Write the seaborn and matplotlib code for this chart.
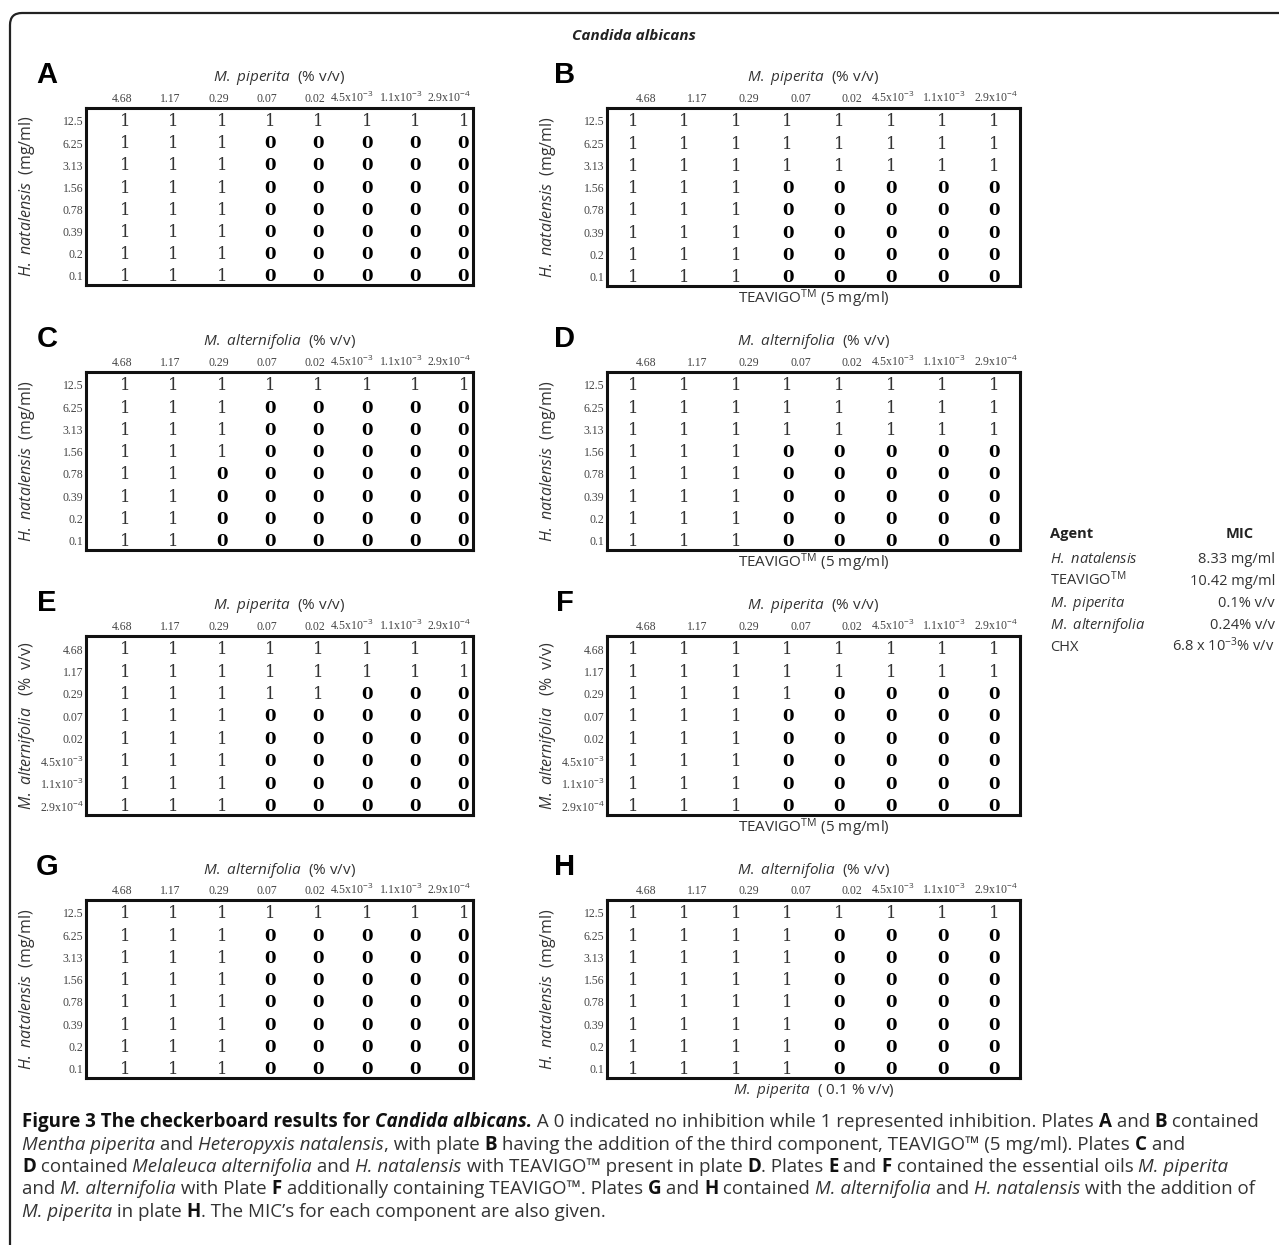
import numpy as np
import seaborn as sns
import matplotlib.pyplot as plt
from matplotlib.colors import ListedColormap
from matplotlib.patches import FancyBboxPatch

sns.set_style('white')
SANS = ['Open Sans', 'DejaVu Sans']
plt.rcParams['font.family'] = SANS
plt.rcParams['mathtext.fontset'] = 'custom'
plt.rcParams['mathtext.rm'] = 'Open Sans'
plt.rcParams['mathtext.it'] = 'Open Sans:italic'
plt.rcParams['mathtext.bf'] = 'Open Sans:bold'

# concentrations used on the plate axes
oil_conc = ['4.68', '1.17', '0.29', '0.07', '0.02',
            r'4.5x10$^{-3}$', r'1.1x10$^{-3}$', r'2.9x10$^{-4}$']
hn_conc = ['12.5', '6.25', '3.13', '1.56', '0.78', '0.39', '0.2', '0.1']

# checkerboard results (1 = inhibition, 0 = no inhibition)
plate_a = [[1, 1, 1, 1, 1, 1, 1, 1],
           [1, 1, 1, 0, 0, 0, 0, 0],
           [1, 1, 1, 0, 0, 0, 0, 0],
           [1, 1, 1, 0, 0, 0, 0, 0],
           [1, 1, 1, 0, 0, 0, 0, 0],
           [1, 1, 1, 0, 0, 0, 0, 0],
           [1, 1, 1, 0, 0, 0, 0, 0],
           [1, 1, 1, 0, 0, 0, 0, 0]]
plate_b = [[1, 1, 1, 1, 1, 1, 1, 1],
           [1, 1, 1, 1, 1, 1, 1, 1],
           [1, 1, 1, 1, 1, 1, 1, 1],
           [1, 1, 1, 0, 0, 0, 0, 0],
           [1, 1, 1, 0, 0, 0, 0, 0],
           [1, 1, 1, 0, 0, 0, 0, 0],
           [1, 1, 1, 0, 0, 0, 0, 0],
           [1, 1, 1, 0, 0, 0, 0, 0]]
plate_c = [[1, 1, 1, 1, 1, 1, 1, 1],
           [1, 1, 1, 0, 0, 0, 0, 0],
           [1, 1, 1, 0, 0, 0, 0, 0],
           [1, 1, 1, 0, 0, 0, 0, 0],
           [1, 1, 0, 0, 0, 0, 0, 0],
           [1, 1, 0, 0, 0, 0, 0, 0],
           [1, 1, 0, 0, 0, 0, 0, 0],
           [1, 1, 0, 0, 0, 0, 0, 0]]
plate_d = [[1, 1, 1, 1, 1, 1, 1, 1],
           [1, 1, 1, 1, 1, 1, 1, 1],
           [1, 1, 1, 1, 1, 1, 1, 1],
           [1, 1, 1, 0, 0, 0, 0, 0],
           [1, 1, 1, 0, 0, 0, 0, 0],
           [1, 1, 1, 0, 0, 0, 0, 0],
           [1, 1, 1, 0, 0, 0, 0, 0],
           [1, 1, 1, 0, 0, 0, 0, 0]]
plate_e = [[1, 1, 1, 1, 1, 1, 1, 1],
           [1, 1, 1, 1, 1, 1, 1, 1],
           [1, 1, 1, 1, 1, 0, 0, 0],
           [1, 1, 1, 0, 0, 0, 0, 0],
           [1, 1, 1, 0, 0, 0, 0, 0],
           [1, 1, 1, 0, 0, 0, 0, 0],
           [1, 1, 1, 0, 0, 0, 0, 0],
           [1, 1, 1, 0, 0, 0, 0, 0]]
plate_f = [[1, 1, 1, 1, 1, 1, 1, 1],
           [1, 1, 1, 1, 1, 1, 1, 1],
           [1, 1, 1, 1, 0, 0, 0, 0],
           [1, 1, 1, 0, 0, 0, 0, 0],
           [1, 1, 1, 0, 0, 0, 0, 0],
           [1, 1, 1, 0, 0, 0, 0, 0],
           [1, 1, 1, 0, 0, 0, 0, 0],
           [1, 1, 1, 0, 0, 0, 0, 0]]
plate_g = [[1, 1, 1, 1, 1, 1, 1, 1],
           [1, 1, 1, 0, 0, 0, 0, 0],
           [1, 1, 1, 0, 0, 0, 0, 0],
           [1, 1, 1, 0, 0, 0, 0, 0],
           [1, 1, 1, 0, 0, 0, 0, 0],
           [1, 1, 1, 0, 0, 0, 0, 0],
           [1, 1, 1, 0, 0, 0, 0, 0],
           [1, 1, 1, 0, 0, 0, 0, 0]]
plate_h = [[1, 1, 1, 1, 1, 1, 1, 1],
           [1, 1, 1, 1, 0, 0, 0, 0],
           [1, 1, 1, 1, 0, 0, 0, 0],
           [1, 1, 1, 1, 0, 0, 0, 0],
           [1, 1, 1, 1, 0, 0, 0, 0],
           [1, 1, 1, 1, 0, 0, 0, 0],
           [1, 1, 1, 1, 0, 0, 0, 0],
           [1, 1, 1, 1, 0, 0, 0, 0]]

# MIC table
mic_agents = [r'$\mathit{H.\ natalensis}$', r'TEAVIGO$^{\mathrm{TM}}$',
              r'$\mathit{M.\ piperita}$', r'$\mathit{M.\ alternifolia}$', 'CHX']
mic_values = ['8.33 mg/ml', '10.42 mg/ml', '0.1% v/v', '0.24% v/v',
              r'6.8 x 10$^{-3}$% v/v']

pip_title = r'$\mathit{M.\ piperita}$  (% v/v)'
alt_title = r'$\mathit{M.\ alternifolia}$  (% v/v)'
hn_label = r'$\mathit{H.\ natalensis}$  (mg/ml)'
ma_label = r'$\mathit{M.\ alternifolia}$   (%  v/v)'
tea_label = r'TEAVIGO$^{\mathrm{TM}}$ (5 mg/ml)'
pip_fixed = r'$\mathit{M.\ piperita}$  ( 0.1 % v/v)'

W, H = 1279, 1245
fig = plt.figure(figsize=(W / 100, H / 100), dpi=100)


def px(x, y):
    return x / W, 1 - y / H


panels = [
    ('A', plate_a, pip_title, hn_label, hn_conc, None, 'right', (86, 108, 473, 285)),
    ('B', plate_b, pip_title, hn_label, hn_conc, tea_label, 'center', (607, 108, 1020, 286)),
    ('C', plate_c, alt_title, hn_label, hn_conc, None, 'right', (86, 372, 473, 550)),
    ('D', plate_d, alt_title, hn_label, hn_conc, tea_label, 'center', (607, 372, 1020, 550)),
    ('E', plate_e, pip_title, ma_label, oil_conc, None, 'right', (86, 636, 473, 815)),
    ('F', plate_f, pip_title, ma_label, oil_conc, tea_label, 'center', (607, 636, 1020, 815)),
    ('G', plate_g, alt_title, hn_label, hn_conc, None, 'right', (86, 900, 473, 1078)),
    ('H', plate_h, alt_title, hn_label, hn_conc, pip_fixed, 'center', (607, 900, 1020, 1078)),
]

white = ListedColormap(['white'])
for letter, plate, title, ylab, yticks, bottom, align, (x0, y0, x1, y1) in panels:
    ax = fig.add_axes([x0 / W, 1 - y1 / H, (x1 - x0) / W, (y1 - y0) / H])
    sns.heatmap(np.array(plate), ax=ax, cmap=white, cbar=False, annot=True, fmt='d',
                annot_kws={'fontsize': 12, 'family': 'DejaVu Serif', 'color': '#333333'})
    for t in ax.texts:
        x, y = t.get_position()
        if t.get_text() == '0':
            t.set_fontweight('bold')
            t.set_color('black')
        if align == 'right':
            x += 0.42
            t.set_ha('right')
        t.set_position((x, y + 0.12))
    for sp in ax.spines.values():
        sp.set_visible(True)
        sp.set_linewidth(2.2)
        sp.set_color('#111111')
    ax.xaxis.tick_top()
    ax.set_xticks(np.arange(8) + 0.95)
    ax.set_xticklabels(oil_conc, rotation=0, ha='right')
    ax.set_yticks(np.arange(8) + 0.65)
    ax.set_yticklabels(yticks, rotation=0, ha='right')
    ax.tick_params(length=0, pad=2, labelsize=8.5, labelcolor='#444444',
                   labelfontfamily='Liberation Serif')
    ax.set_xlabel('')
    ax.set_ylabel(ylab, fontsize=11.5, color='#333333')
    right_edge = 37 if x0 < 300 else 558
    ax.yaxis.set_label_coords((right_edge - x0) / (x1 - x0), 0.5)
    ax.text(0.5, 1 + 30 / (y1 - y0), title, transform=ax.transAxes,
            ha='center', va='center', fontsize=11, color='#333333')
    if bottom is not None:
        ax.text(0.5, -13 / (y1 - y0), bottom, transform=ax.transAxes,
                ha='center', va='center', fontsize=11, color='#333333')
    lx = 47 if x0 < 300 else 565
    fig.text(*px(lx, y0 - 33), letter, ha='center', va='center', fontsize=21,
             fontweight='bold', family=['Liberation Sans', 'DejaVu Sans'], color='black')

fig.text(*px(634, 36), 'Candida albicans', ha='center', va='center', fontsize=11,
         fontweight='bold', fontstyle='italic', color='#222222')

# MIC table
fig.text(*px(1050, 538), 'Agent', ha='left', va='baseline', fontsize=10.5,
         fontweight='bold', color='#222222')
fig.text(*px(1240, 538), 'MIC', ha='center', va='baseline', fontsize=10.5,
         fontweight='bold', color='#222222')
for i, (agent, val) in enumerate(zip(mic_agents, mic_values)):
    yb = 563 + i * 22
    fig.text(*px(1050, yb), agent, ha='left', va='baseline', fontsize=10.5, color='#333333')
    fig.text(*px(1275, yb), val, ha='right', va='baseline', fontsize=10.5, color='#333333')

# outer frame (top and left edges with a rounded corner)
frame = FancyBboxPatch((0.10, -0.5), 13.5, 12.32 + 0.5,
                       boxstyle='round,pad=0,rounding_size=0.12',
                       transform=fig.dpi_scale_trans, fill=False,
                       edgecolor='#222222', linewidth=1.6, clip_on=False)
fig.add_artist(frame)

# caption with mixed styles
caption = [
    [('Figure 3 The checkerboard results for ', 'b'), ('Candida albicans.', 'bi'),
     (' A 0 indicated no inhibition while 1 represented inhibition. Plates ', 'n'),
     ('A', 'b'), (' and ', 'n'), ('B', 'b'), (' contained', 'n')],
    [('Mentha piperita', 'i'), (' and ', 'n'), ('Heteropyxis natalensis', 'i'),
     (', with plate ', 'n'), ('B', 'b'),
     (' having the addition of the third component, TEAVIGO\u2122 (5 mg/ml). Plates ', 'n'),
     ('C', 'b'), (' and', 'n')],
    [('D', 'b'), (' contained ', 'n'), ('Melaleuca alternifolia', 'i'), (' and ', 'n'),
     ('H. natalensis', 'i'), (' with TEAVIGO\u2122 present in plate ', 'n'), ('D', 'b'),
     ('. Plates ', 'n'), ('E', 'b'), (' and ', 'n'), ('F', 'b'),
     (' contained the essential oils ', 'n'), ('M. piperita', 'i')],
    [('and ', 'n'), ('M. alternifolia', 'i'), (' with Plate ', 'n'), ('F', 'b'),
     (' additionally containing TEAVIGO\u2122. Plates ', 'n'), ('G', 'b'), (' and ', 'n'),
     ('H', 'b'), (' contained ', 'n'), ('M. alternifolia', 'i'), (' and ', 'n'),
     ('H. natalensis', 'i'), (' with the addition of', 'n')],
    [('M. piperita', 'i'), (' in plate ', 'n'), ('H', 'b'),
     ('. The MIC\u2019s for each component are also given.', 'n')],
]

renderer = fig.canvas.get_renderer()


def style(kind, size):
    return dict(fontsize=size, family=SANS,
                fontweight='bold' if 'b' in kind else 'normal',
                fontstyle='italic' if 'i' in kind else 'normal',
                color='#111111' if 'b' in kind else '#333333')


def seg_width(s, kind, size):
    t = fig.text(0, 0, '|' + s + '|', **style(kind, size))
    w1 = t.get_window_extent(renderer).width
    t.remove()
    t = fig.text(0, 0, '||', **style(kind, size))
    w0 = t.get_window_extent(renderer).width
    t.remove()
    return w1 - w0


trial = 10.5
first_w = sum(seg_width(s, k, trial) for s, k in caption[0])
size = trial * 1245 / first_w

for i, line in enumerate(caption):
    x = 22
    yb = 1127 + i * 22.5
    for s, k in line:
        fig.text(*px(x, yb), s, ha='left', va='baseline', **style(k, size))
        x += seg_width(s, k, size)

fig.savefig('out.png', dpi=100)
